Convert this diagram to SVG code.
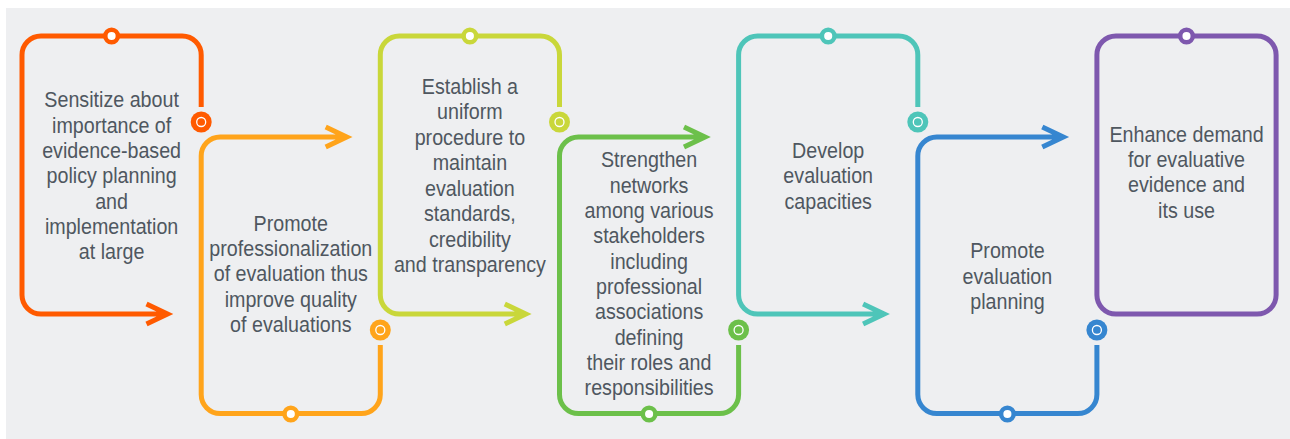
<svg xmlns="http://www.w3.org/2000/svg" width="1290" height="439" viewBox="0 0 1290 439">
<style>
.ln{fill:none;stroke-width:5;stroke-linejoin:miter;stroke-miterlimit:6;stroke-linecap:butt}
.ring{fill:#ffffff;stroke-width:4.5}
.dot-in{fill:none;stroke:#ffffff;stroke-width:1.3}
.t{font-family:"Liberation Sans",Arial,sans-serif;font-size:22px;fill:#4f5760;text-anchor:middle}
.c1{stroke:#ff5a00}.f1{fill:#ff5a00}
.c2{stroke:#ffa41b}.f2{fill:#ffa41b}
.c3{stroke:#c9d73a}.f3{fill:#c9d73a}
.c4{stroke:#6cc04a}.f4{fill:#6cc04a}
.c5{stroke:#4ec5b9}.f5{fill:#4ec5b9}
.c6{stroke:#3686d0}.f6{fill:#3686d0}
.c7{stroke:#7e58ae}.f7{fill:#7e58ae}
</style>
<rect x="6" y="8" width="1284" height="431" fill="#eeeff1"/>

<g id="node1">
<path class="ln c1" d="M201.2,107 V55 A19,19 0 0 0 182.2,36 H41 A19,19 0 0 0 22,55 V295 A19,19 0 0 0 41,314 H167.5 M146.5,304 L167.5,314 L146.5,324"/>
<circle class="ring c1" cx="111.6" cy="36" r="6.3"/>
<text class="t" transform="translate(111.6 0) scale(0.895 1)"><tspan x="0" y="107.5">Sensitize about</tspan><tspan x="0" y="132.8">importance of</tspan><tspan x="0" y="158.1">evidence-based</tspan><tspan x="0" y="183.4">policy planning</tspan><tspan x="0" y="208.7">and</tspan><tspan x="0" y="234">implementation</tspan><tspan x="0" y="259.3">at large</tspan></text>
</g>

<g id="node2">
<path class="ln c2" d="M380.3,345 V394.5 A19,19 0 0 1 361.3,413.5 H220.2 A19,19 0 0 1 201.2,394.5 V156 A19,19 0 0 1 220.2,137 H346.7 M325.7,127 L346.7,137 L325.7,147"/>
<circle class="ring c2" cx="290.8" cy="414" r="6.3"/>
<text class="t" transform="translate(290.8 0) scale(0.895 1)"><tspan x="0" y="230.7">Promote</tspan><tspan x="0" y="256">professionalization</tspan><tspan x="0" y="281.3">of evaluation thus</tspan><tspan x="0" y="306.6">improve quality</tspan><tspan x="0" y="331.9">of evaluations</tspan></text>
</g>

<g id="node3">
<path class="ln c3" d="M559.5,107 V55 A19,19 0 0 0 540.5,36 H399.3 A19,19 0 0 0 380.3,55 V295 A19,19 0 0 0 399.3,314 H525.8 M504.8,304 L525.8,314 L504.8,324"/>
<circle class="ring c3" cx="469.9" cy="36" r="6.3"/>
<text class="t" transform="translate(469.9 0) scale(0.895 1)"><tspan x="0" y="94">Establish a</tspan><tspan x="0" y="119.5">uniform</tspan><tspan x="0" y="145">procedure to</tspan><tspan x="0" y="170.5">maintain</tspan><tspan x="0" y="196">evaluation</tspan><tspan x="0" y="221.5">standards,</tspan><tspan x="0" y="247">credibility</tspan><tspan x="0" y="272.5">and transparency</tspan></text>
</g>

<g id="node4">
<path class="ln c4" d="M738.6,345 V394.5 A19,19 0 0 1 719.6,413.5 H578.5 A19,19 0 0 1 559.5,394.5 V156 A19,19 0 0 1 578.5,137 H705 M684,127 L705,137 L684,147"/>
<circle class="ring c4" cx="649.1" cy="414" r="6.3"/>
<text class="t" transform="translate(649.1 0) scale(0.895 1)"><tspan x="0" y="167.5">Strengthen</tspan><tspan x="0" y="192.8">networks</tspan><tspan x="0" y="218.1">among various</tspan><tspan x="0" y="243.4">stakeholders</tspan><tspan x="0" y="268.7">including</tspan><tspan x="0" y="294">professional</tspan><tspan x="0" y="319.3">associations</tspan><tspan x="0" y="344.6">defining</tspan><tspan x="0" y="369.9">their roles and</tspan><tspan x="0" y="395.2">responsibilities</tspan></text>
</g>

<g id="node5">
<path class="ln c5" d="M917.8,107 V55 A19,19 0 0 0 898.8,36 H757.6 A19,19 0 0 0 738.6,55 V295 A19,19 0 0 0 757.6,314 H884.1 M863.1,304 L884.1,314 L863.1,324"/>
<circle class="ring c5" cx="828.2" cy="36" r="6.3"/>
<text class="t" transform="translate(828.2 0) scale(0.895 1)"><tspan x="0" y="158">Develop</tspan><tspan x="0" y="183.3">evaluation</tspan><tspan x="0" y="208.6">capacities</tspan></text>
</g>

<g id="node6">
<path class="ln c6" d="M1096.9,345 V394.5 A19,19 0 0 1 1077.9,413.5 H936.8 A19,19 0 0 1 917.8,394.5 V156 A19,19 0 0 1 936.8,137 H1063.3 M1042.3,127 L1063.3,137 L1042.3,147"/>
<circle class="ring c6" cx="1007.4" cy="414" r="6.3"/>
<text class="t" transform="translate(1007.4 0) scale(0.895 1)"><tspan x="0" y="258.3">Promote</tspan><tspan x="0" y="283.6">evaluation</tspan><tspan x="0" y="308.9">planning</tspan></text>
</g>

<g id="node7">
<rect class="ln c7" x="1096.9" y="36" width="179.2" height="278" rx="19" ry="19"/>
<circle class="ring c7" cx="1186.5" cy="36" r="6.3"/>
<text class="t" transform="translate(1186.5 0) scale(0.895 1)"><tspan x="0" y="141.7">Enhance demand</tspan><tspan x="0" y="167">for evaluative</tspan><tspan x="0" y="192.3">evidence and</tspan><tspan x="0" y="217.6">its use</tspan></text>
</g>

<g id="connectors">
<circle class="f1" cx="201.2" cy="122" r="10.5"/><circle class="dot-in" cx="201.2" cy="122" r="4.5"/>
<circle class="f2" cx="380.3" cy="330" r="10.5"/><circle class="dot-in" cx="380.3" cy="330" r="4.5"/>
<circle class="f3" cx="559.5" cy="122" r="10.5"/><circle class="dot-in" cx="559.5" cy="122" r="4.5"/>
<circle class="f4" cx="738.6" cy="330" r="10.5"/><circle class="dot-in" cx="738.6" cy="330" r="4.5"/>
<circle class="f5" cx="917.8" cy="122" r="10.5"/><circle class="dot-in" cx="917.8" cy="122" r="4.5"/>
<circle class="f6" cx="1096.9" cy="330" r="10.5"/><circle class="dot-in" cx="1096.9" cy="330" r="4.5"/>
</g>
</svg>
